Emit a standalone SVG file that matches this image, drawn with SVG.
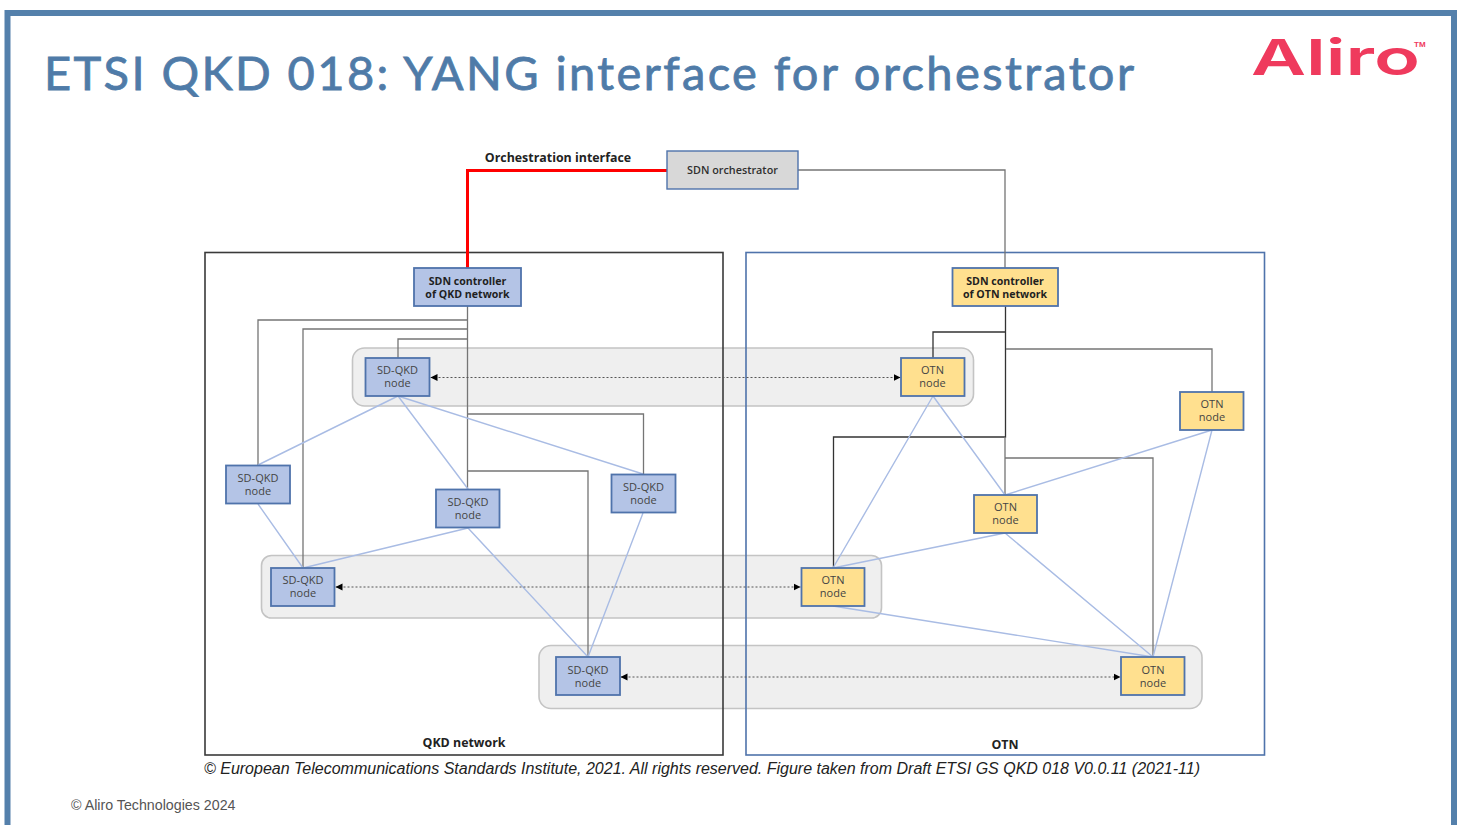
<svg xmlns="http://www.w3.org/2000/svg" width="1462" height="825" viewBox="0 0 1462 825">
<style>
.lbl{font-family:"Open Sans","Noto Sans",sans-serif;font-size:11px;text-anchor:middle;fill:#444}
.b{font-weight:700;fill:#1f1f1f;font-size:10.6px}
.h{font-weight:700;fill:#222;font-size:12.400px}
.q{fill:#b4c4e6;stroke:#4f73ab;stroke-width:1.8}
.o{fill:#ffe08f;stroke:#4f73ab;stroke-width:1.8}
.band{fill:#efefef;stroke:#c4c4c4;stroke-width:1.6}
.g{fill:none;stroke:#757575;stroke-width:1.3}
.k{fill:none;stroke:#333;stroke-width:1.3}
.l{fill:none;stroke:#a9bce4;stroke-width:1.4}
.d{fill:none;stroke:#555;stroke-width:1;stroke-dasharray:2 2;marker-start:url(#as);marker-end:url(#ae)}
</style>
<defs>
<marker id="ae" markerUnits="userSpaceOnUse" markerWidth="8" markerHeight="8" refX="7" refY="4" orient="auto"><path d="M0 0.5L7 4L0 7.5Z" fill="#000"/></marker>
<marker id="as" markerUnits="userSpaceOnUse" markerWidth="8" markerHeight="8" refX="0" refY="4" orient="auto"><path d="M7 0.5L0 4L7 7.5Z" fill="#000"/></marker>
</defs>
<rect width="1462" height="825" fill="#fff"/>
<path d="M7.5 830V13H1454V830" fill="none" stroke="#5480ab" stroke-width="6"/>
<text x="44" y="90" font-family="Lato,'Noto Sans',sans-serif" font-size="47" fill="#4f7ba8" stroke="#4f7ba8" stroke-width="0.8" textLength="1090" lengthAdjust="spacing">ETSI QKD 018: YANG interface for orchestrator</text>
<g id="logo">
<text x="1251" y="75" font-family="Inter,Lato,sans-serif" font-weight="600" font-size="50" fill="#ef3a5d" textLength="169" lengthAdjust="spacingAndGlyphs">Aliro</text>
<text x="1414" y="47" font-family="Liberation Sans,sans-serif" font-weight="700" font-size="8" fill="#ef3a5d">TM</text>
</g>
<g id="bands">
<rect class="band" x="352.500" y="348" width="621" height="58" rx="12"/>
<rect class="band" x="261.500" y="555.500" width="620" height="62.500" rx="10"/>
<rect class="band" x="539" y="645.500" width="663" height="63" rx="12"/>
</g>
<rect id="qkd-network" x="205" y="252.500" width="518" height="502.500" fill="none" stroke="#3a3a3a" stroke-width="1.6"/>
<rect id="otn-network" x="746" y="252.500" width="518.500" height="502.500" fill="none" stroke="#4f73ab" stroke-width="1.6"/>
<g id="connectors">
<path class="g" d="M467.500 306V489M467.500 320H258V465M467.500 329H303V568M467.500 339H398V358M467.500 414H643.500V474M467.500 471H588V657"/>
<path class="g" d="M798 170H1005V268"/>
<path fill="none" stroke="#f00" stroke-width="3" d="M667 170.500H467.500V268"/>
<path class="k" d="M1005.500 306V437H833.500V568M1005 332H933V358"/>
<path class="g" d="M1006 349H1212V392M1005 437V495M1005 458H1153V657"/>
<path class="l" d="M398 396L258 465M398 396L468 489M398 396L643 474M258 504L303 568M468 528L303 568M468 528L588 657M643 513L588 657"/>
<path class="l" d="M933 396L833 568M933 396L1005 495M1212 430L1005 495M1212 430L1153 657M1005 533L833 568M1005 533L1153 657M833 606L1153 657"/>
<path class="d" d="M430.500 377.500H900.500"/>
<path class="d" d="M335.500 587H800.500"/>
<path class="d" d="M620.500 677H1120.500"/>
</g>
<g id="orchestrator"><rect x="667" y="151" width="131" height="38" fill="#d8d8d8" stroke="#4f73ab" stroke-width="1.4"/><text class="lbl" x="732.500" y="174" style="font-weight:600;fill:#2f2f2f;font-size:10.800px">SDN orchestrator</text></g>
<g id="controller-qkd"><rect class="q" x="414" y="268" width="107" height="38"/><text class="lbl b" x="467.500" y="285">SDN controller</text><text class="lbl b" x="467.500" y="298">of QKD network</text></g>
<g id="controller-otn"><rect class="o" x="952.500" y="268" width="105.500" height="38"/><text class="lbl b" x="1005" y="285">SDN controller</text><text class="lbl b" x="1005" y="298">of OTN network</text></g>
<g id="qkd-1"><rect class="q" x="365.500" y="358" width="64" height="38"/><text class="lbl" x="397.500" y="374">SD-QKD</text><text class="lbl" x="397.500" y="387">node</text></g>
<g id="qkd-2"><rect class="q" x="226" y="465.500" width="64" height="38"/><text class="lbl" x="258" y="482">SD-QKD</text><text class="lbl" x="258" y="495">node</text></g>
<g id="qkd-3"><rect class="q" x="436" y="489.500" width="63.500" height="38"/><text class="lbl" x="468" y="506">SD-QKD</text><text class="lbl" x="468" y="519">node</text></g>
<g id="qkd-4"><rect class="q" x="611.500" y="474.500" width="64" height="38"/><text class="lbl" x="643.500" y="491">SD-QKD</text><text class="lbl" x="643.500" y="504">node</text></g>
<g id="qkd-5"><rect class="q" x="271" y="568" width="63.500" height="38"/><text class="lbl" x="303" y="584">SD-QKD</text><text class="lbl" x="303" y="597">node</text></g>
<g id="qkd-6"><rect class="q" x="556" y="657" width="64" height="38"/><text class="lbl" x="588" y="674">SD-QKD</text><text class="lbl" x="588" y="687">node</text></g>
<g id="otn-1"><rect class="o" x="901" y="358" width="63.500" height="38"/><text class="lbl" x="932.500" y="374">OTN</text><text class="lbl" x="932.500" y="387">node</text></g>
<g id="otn-2"><rect class="o" x="1180" y="392" width="63.500" height="38"/><text class="lbl" x="1212" y="408">OTN</text><text class="lbl" x="1212" y="421">node</text></g>
<g id="otn-3"><rect class="o" x="974" y="495" width="63" height="38"/><text class="lbl" x="1005.500" y="511">OTN</text><text class="lbl" x="1005.500" y="524">node</text></g>
<g id="otn-4"><rect class="o" x="801.500" y="568" width="63" height="38"/><text class="lbl" x="833" y="584">OTN</text><text class="lbl" x="833" y="597">node</text></g>
<g id="otn-5"><rect class="o" x="1121" y="657" width="63.500" height="38"/><text class="lbl" x="1153" y="674">OTN</text><text class="lbl" x="1153" y="687">node</text></g>
<text class="lbl h" x="558" y="162">Orchestration interface</text>
<text class="lbl h" x="464" y="747">QKD network</text>
<text class="lbl h" x="1005" y="749">OTN</text>
<text x="204" y="774" font-family="Liberation Sans,Arial,sans-serif" font-style="italic" font-size="16" fill="#222" textLength="996" lengthAdjust="spacingAndGlyphs">© European Telecommunications Standards Institute, 2021. All rights reserved. Figure taken from Draft ETSI GS QKD 018 V0.0.11 (2021-11)</text>
<text x="71" y="810" font-family="Liberation Sans,Arial,sans-serif" font-size="14" fill="#555" textLength="164.500" lengthAdjust="spacingAndGlyphs">© Aliro Technologies 2024</text>
</svg>
